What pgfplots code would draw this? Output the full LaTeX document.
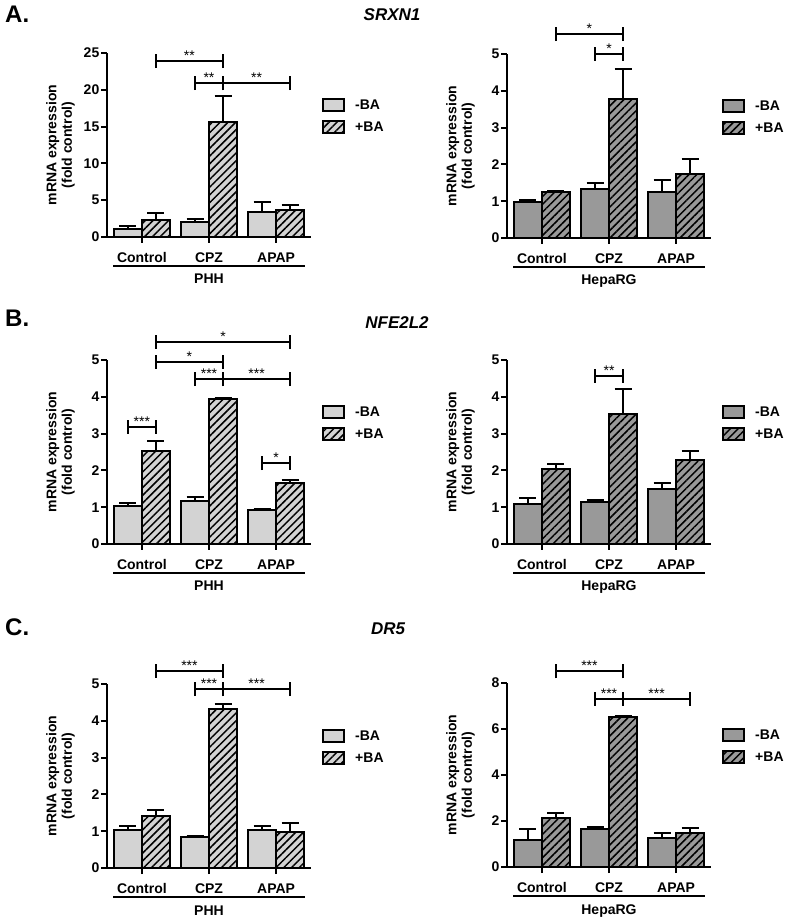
\documentclass[border=0pt]{standalone}
\usepackage{pgfplots}
\pgfplotsset{compat=1.18}
\usetikzlibrary{patterns.meta,calc}
\usepackage{fontspec}
\setmainfont{Liberation Sans}
\newcommand\lab{\fontsize{14}{15.5}\selectfont\bfseries}
\newcommand\starf{\fontsize{14}{14}\selectfont}
\definecolor{phh}{HTML}{D3D3D3}
\definecolor{hrg}{HTML}{999999}
\newcommand\sig[4]{%
  \draw[line width=2pt] (axis cs:#1,#3) -- (axis cs:#2,#3);
  \draw[line width=2pt] ([yshift=-7pt]axis cs:#1,#3) -- ([yshift=7pt]axis cs:#1,#3);
  \draw[line width=2pt] ([yshift=-7pt]axis cs:#2,#3) -- ([yshift=7pt]axis cs:#2,#3);
  \path ($(axis cs:#1,#3)!0.5!(axis cs:#2,#3)$) node[font=\starf, anchor=base, inner sep=0pt, yshift=0.5pt] {#4};}
\newcommand\grp[1]{%
  \draw[line width=1.5pt] ([yshift=-29pt]axis cs:-0.43,0) -- ([yshift=-29pt]axis cs:2.43,0);
  \node[font=\lab, anchor=base, inner sep=0pt] at ([yshift=-47pt]axis cs:1,0) {#1};}
\pgfplotsset{
  base/.style={
    scale only axis, width=204pt, height=184pt,
    axis x line*=bottom, axis y line*=left,
    axis line style={line width=2.5pt},
    every tick/.style={black, line width=2pt},
    major tick length=6pt, tick align=outside,
    xmin=-0.52, xmax=2.52, ymin=0,
    xtick={0,1,2}, xticklabels={Control,CPZ,APAP},
    tick label style={font=\lab},
    yticklabel style={inner sep=1.5pt},
    xticklabel style={anchor=base, yshift=-19.5pt},
    /pgf/number format/assume math mode=true,
    clip=false,
    ylabel={mRNA expression\\(fold control)},
    ylabel style={align=center, at={(axis description cs:-0.228,0.5)}, anchor=center, font=\lab},
    legend image code/.code={\draw[##1] (0pt,-6pt) rectangle (21pt,6pt); \path (31pt,0pt);},
    legend cell align=left,
    legend style={draw=none, fill=none, at={(axis description cs:1.054,0.755)}, anchor=north west,
      font=\lab, row sep=8pt, inner sep=0pt, nodes={inner sep=0pt}},
  },
  bars/.style={ybar, bar width=28pt, bar shift=0pt, fill=#1, draw=black, line width=2pt,
    error bars/.cd, y dir=plus, y explicit,
    error bar style={line width=2pt, black},
    error mark options={rotate=90, mark size=8.5pt, line width=2pt, black}},
  minus/.style={bars=#1},
  plus/.style={postaction={pattern={Lines[angle=45,distance=5.5pt,line width=1.5pt]}}, bars=#1},
}
\begin{document}
\begin{tikzpicture}
\path (0pt,0pt) rectangle (787pt,918pt);
% titles
\node[anchor=base west, inner sep=0pt, font=\fontsize{24}{24}\selectfont\bfseries] at (5pt,895pt) {A.};
\node[anchor=base, inner sep=0pt, font=\fontsize{17}{17}\selectfont\bfseries\itshape] at (392pt,897pt) {SRXN1};
\node[anchor=base west, inner sep=0pt, font=\fontsize{24}{24}\selectfont\bfseries] at (5pt,591pt) {B.};
\node[anchor=base, inner sep=0pt, font=\fontsize{17}{17}\selectfont\bfseries\itshape] at (397pt,589pt) {NFE2L2};
\node[anchor=base west, inner sep=0pt, font=\fontsize{24}{24}\selectfont\bfseries] at (5pt,282pt) {C.};
\node[anchor=base, inner sep=0pt, font=\fontsize{17}{17}\selectfont\bfseries\itshape] at (388pt,283pt) {DR5};

% A left
\begin{axis}[base, at={(107pt,681pt)}, anchor=south west, ymax=25, ytick={0,5,...,25}]
\addplot[minus=phh] coordinates {(-0.2086,1.13) +- (0,0.32) (0.7914,2.0) +- (0,0.5) (1.7914,3.35) +- (0,1.35)};
\addplot[plus=phh] coordinates {(0.2086,2.36) +- (0,0.9) (1.2086,15.67) +- (0,3.53) (2.2086,3.7) +- (0,0.7)};
\legend{-BA,+BA}
\sig{0.2086}{1.2086}{23.9}{**}
\sig{0.7914}{1.2086}{20.9}{**}
\sig{1.2086}{2.2086}{20.9}{**}
\grp{PHH}
\end{axis}

% A right
\begin{axis}[base, at={(507pt,680pt)}, anchor=south west, ymax=5, ytick={0,1,...,5}]
\addplot[minus=hrg] coordinates {(-0.2086,0.99) +- (0,0.05) (0.7914,1.32) +- (0,0.17) (1.7914,1.24) +- (0,0.34)};
\addplot[plus=hrg] coordinates {(0.2086,1.26) +- (0,0.03) (1.2086,3.77) +- (0,0.81) (2.2086,1.74) +- (0,0.4)};
\legend{-BA,+BA}
\sig{0.2086}{1.2086}{5.54}{*}
\sig{0.7914}{1.2086}{5.0}{*}
\grp{HepaRG}
\end{axis}

% B left
\begin{axis}[base, at={(107pt,374pt)}, anchor=south west, ymax=5, ytick={0,1,...,5}]
\addplot[minus=phh] coordinates {(-0.2086,1.02) +- (0,0.09) (0.7914,1.16) +- (0,0.11) (1.7914,0.93) +- (0,0.02)};
\addplot[plus=phh] coordinates {(0.2086,2.53) +- (0,0.27) (1.2086,3.94) +- (0,0.03) (2.2086,1.65) +- (0,0.08)};
\legend{-BA,+BA}
\sig{0.2086}{2.2086}{5.50}{*}
\sig{0.2086}{1.2086}{4.95}{*}
\sig{0.7914}{1.2086}{4.48}{***}
\sig{1.2086}{2.2086}{4.48}{***}
\sig{-0.2086}{0.2086}{3.19}{***}
\sig{1.7914}{2.2086}{2.2}{*}
\grp{PHH}
\end{axis}

% B right
\begin{axis}[base, at={(507pt,374pt)}, anchor=south west, ymax=5, ytick={0,1,...,5}]
\addplot[minus=hrg] coordinates {(-0.2086,1.09) +- (0,0.15) (0.7914,1.15) +- (0,0.05) (1.7914,1.50) +- (0,0.15)};
\addplot[plus=hrg] coordinates {(0.2086,2.04) +- (0,0.14) (1.2086,3.53) +- (0,0.68) (2.2086,2.28) +- (0,0.25)};
\legend{-BA,+BA}
\sig{0.7914}{1.2086}{4.57}{**}
\grp{HepaRG}
\end{axis}

% C left
\begin{axis}[base, at={(107pt,50pt)}, anchor=south west, ymax=5, ytick={0,1,...,5}]
\addplot[minus=phh] coordinates {(-0.2086,1.03) +- (0,0.10) (0.7914,0.83) +- (0,0.04) (1.7914,1.03) +- (0,0.11)};
\addplot[plus=phh] coordinates {(0.2086,1.42) +- (0,0.15) (1.2086,4.32) +- (0,0.15) (2.2086,0.98) +- (0,0.23)};
\legend{-BA,+BA}
\sig{0.2086}{1.2086}{5.36}{***}
\sig{0.7914}{1.2086}{4.86}{***}
\sig{1.2086}{2.2086}{4.86}{***}
\grp{PHH}
\end{axis}

% C right
\begin{axis}[base, at={(507pt,51pt)}, anchor=south west, ymax=8, ytick={0,2,...,8}]
\addplot[minus=hrg] coordinates {(-0.2086,1.19) +- (0,0.45) (0.7914,1.64) +- (0,0.08) (1.7914,1.26) +- (0,0.23)};
\addplot[plus=hrg] coordinates {(0.2086,2.14) +- (0,0.22) (1.2086,6.51) +- (0,0.06) (2.2086,1.48) +- (0,0.22)};
\legend{-BA,+BA}
\sig{0.2086}{1.2086}{8.51}{***}
\sig{0.7914}{1.2086}{7.32}{***}
\sig{1.2086}{2.2086}{7.32}{***}
\grp{HepaRG}
\end{axis}
\end{tikzpicture}
\end{document}
